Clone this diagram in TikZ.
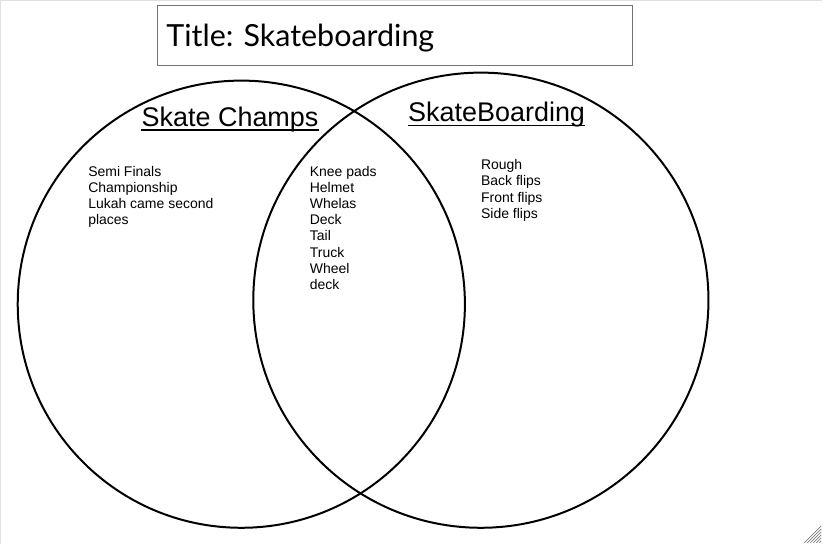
\documentclass[tikz,border=0pt]{standalone}
\usepackage{fontspec}
\setmainfont{Liberation Sans}
\newfontfamily\titlefont{Lato}
\frenchspacing
\usetikzlibrary{positioning}

\begin{document}
\begin{tikzpicture}[
        x=1pt, y=-1pt,
        venn/.style={draw, circle, line width=2pt, inner sep=0pt},
        titlebox/.style={draw=gray!90!black, line width=1pt, minimum width=476pt, minimum height=60pt, text width=458pt, text height=26pt, text depth=4pt, align=left, font=\titlefont\fontsize{30.5}{36}\selectfont},
        heading/.style={inner sep=0pt, anchor=base west, font=\fontsize{27}{32}\selectfont},
        items/.style={inner sep=0pt, anchor=north west, align=left, font=\fontsize{14}{16.2}\selectfont}
    ]

    % Page
    \fill[white] (0,0) rectangle (823,544);
    \draw[gray!25, line width=1.5pt] (0,544) -- (0,0) -- (823,0);

    % Title
    \node[titlebox] (title) at (395,35) {Title: Skateboarding};

    % Circles
    \node[venn, minimum size=448pt] (champs) at (241,304) {};
    \node[venn, minimum size=456pt] (boarding) at (481,300) {};

    % Headings
    \node[heading] (champshead) at (141,125.5) {Skate Champs};
    \node[heading] (boardinghead) at (408,121) {SkateBoarding};
    \draw[line width=1.5pt] ([yshift=-4pt]champshead.base west) -- ([yshift=-4pt]champshead.base east);
    \draw[line width=1.5pt] ([yshift=-4pt]boardinghead.base west) -- ([yshift=-4pt]boardinghead.base east);

    % Lists
    \node[items] (champslist) at (87.5,165.5) {Semi Finals \\ Championship \\ Lukah came second \\ places};
    \node[items] (bothlist) at (309.5,165.5) {Knee pads \\ Helmet \\ Whelas \\ Deck \\ Tail \\ Truck \\ Wheel \\ deck};
    \node[items] (boardinglist) at (481,159) {Rough \\ Back flips \\ Front flips \\ Side flips};

    % Grip
    \foreach \d in {0,3,...,15}
        \draw[gray, line width=0.7pt] (805+\d,543) -- (822,526+\d);

\end{tikzpicture}
\end{document}
